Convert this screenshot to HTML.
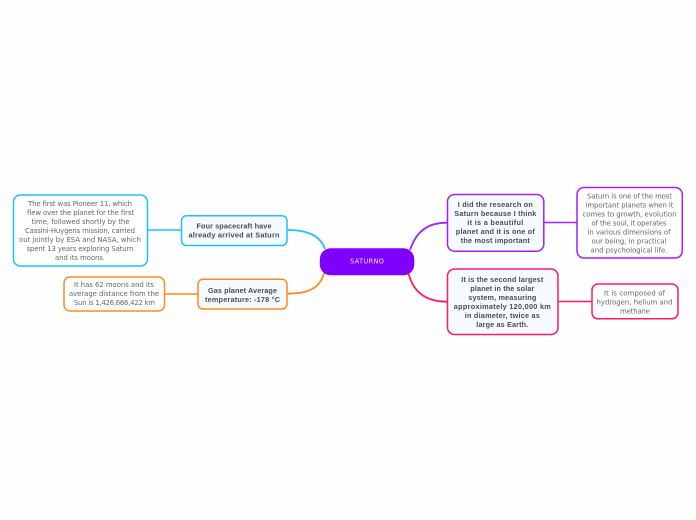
<!DOCTYPE html>
<html><head><meta charset="utf-8"><title>SATURNO</title>
<style>
html,body{margin:0;padding:0;background:#fff;width:696px;height:520px;overflow:hidden}
svg{display:block}
text{text-anchor:middle}
.n text{font-family:"DejaVu Sans",sans-serif;font-size:6.9px;fill:#666}
.b text{font-family:"Liberation Sans",sans-serif;font-size:7.3px;font-weight:bold;fill:#484c58}
</style></head><body>
<svg width="696" height="520" viewBox="0 0 696 520" xmlns="http://www.w3.org/2000/svg">
<rect width="696" height="520" fill="#fefefe"/>
<g fill="none" stroke-width="1.6">
<path d="M147.5 230H181" stroke="#1fc0ff"/>
<path d="M287 230C307 230 320 235 325 249" stroke="#1fc0ff" stroke-width="1.8"/>
<path d="M164.5 294H197.5" stroke="#ff8a1f"/>
<path d="M287 293.7C307 293.7 320 289 324 273" stroke="#ff8a1f" stroke-width="1.8"/>
<path d="M544 222.5H576.5" stroke="#a21fff"/>
<path d="M447 222.7C427 222.7 416 232 410 250" stroke="#a21fff" stroke-width="1.8"/>
<path d="M558 301.5H591.7" stroke="#ff1a6e"/>
<path d="M447 301.7C425 301.7 413 291 408.7 274" stroke="#ff1a6e" stroke-width="1.8"/>
</g>
<g stroke-width="1.5">
<rect x="13.5" y="195" width="134" height="71" rx="7" fill="#fff" stroke="#1fc0ff"/>
<rect x="181.5" y="215.8" width="105.5" height="29.7" rx="5" fill="#f5faff" stroke="#1fc0ff"/>
<rect x="64" y="277" width="100.5" height="34" rx="6" fill="#fff" stroke="#ff8a1f"/>
<rect x="198" y="279.3" width="89" height="29.7" rx="5" fill="#f5faff" stroke="#ff8a1f"/>
<rect x="447.5" y="194.5" width="96.3" height="56.7" rx="7" fill="#f5faff" stroke="#a21fff"/>
<rect x="447.5" y="269" width="110.5" height="65.5" rx="7" fill="#f5faff" stroke="#ff1a6e"/>
<rect x="577" y="187.5" width="105.3" height="70.5" rx="7" fill="#fff" stroke="#a21fff"/>
<rect x="592" y="284" width="86" height="34.8" rx="6" fill="#fff" stroke="#ff1a6e"/>
</g>
<rect x="319.8" y="248.3" width="94.5" height="27" rx="11" fill="#7f00ff"/>
<text x="367" y="263.6" font-family="DejaVu Sans, sans-serif" font-size="6.6" fill="#f0e2ff" textLength="34">SATURNO</text>

<g class="n">
<text x="80" y="206" textLength="104">The first was Pioneer 11, which</text>
<text x="80.5" y="215" textLength="107">flew over the planet for the first</text>
<text x="80.5" y="224" textLength="98">time, followed shortly by the</text>
<text x="80" y="233" textLength="110">Cassini-Huygens mission, carried</text>
<text x="80" y="242" textLength="122">out jointly by ESA and NASA, which</text>
<text x="80" y="251" textLength="107">spent 13 years exploring Saturn</text>
<text x="80" y="260" textLength="50">and its moons.</text>
<text x="114" y="287" textLength="80">It has 62 moons and its</text>
<text x="114" y="296" textLength="90">average distance from the</text>
<text x="114.5" y="305" textLength="81">Sun is 1,426,666,422 km</text>
<text x="629.5" y="198.5" textLength="85">Saturn is one of the most</text>
<text x="629.5" y="207.5" textLength="88">important planets when it</text>
<text x="629.5" y="216.5" textLength="94">comes to growth, evolution</text>
<text x="629" y="225.5" textLength="75">of the soul, it operates</text>
<text x="629" y="234.5" textLength="83">in various dimensions of</text>
<text x="629" y="243.5" textLength="75">our being, in practical</text>
<text x="629" y="252.5" textLength="77">and psychological life.</text>
<text x="634.5" y="295.5" textLength="61">It is composed of</text>
<text x="634.5" y="304.5" textLength="76">hydrogen, helium and</text>
<text x="635" y="313.5" textLength="30">methane</text>
</g>
<g class="b">
<text x="234" y="228.5" textLength="75">Four spacecraft have</text>
<text x="234" y="237.5" textLength="91">already arrived at Saturn</text>
<text x="242.5" y="292.8" textLength="69">Gas planet Average</text>
<text x="242.5" y="301.8" textLength="75">temperature: -178 °C</text>
<text x="495.3" y="207" textLength="75">I did the research on</text>
<text x="495.3" y="216" textLength="82">Saturn because I think</text>
<text x="495.3" y="225" textLength="56">it is a beautiful</text>
<text x="495.3" y="234" textLength="79">planet and it is one of</text>
<text x="495.3" y="243" textLength="69">the most important</text>
<text x="502.3" y="282" textLength="82">It is the second largest</text>
<text x="502.3" y="291" textLength="64">planet in the solar</text>
<text x="502.3" y="300" textLength="68">system, measuring</text>
<text x="502.3" y="309" textLength="97">approximately 120,000 km</text>
<text x="502.3" y="318" textLength="75">in diameter, twice as</text>
<text x="502.3" y="327" textLength="52">large as Earth.</text>
</g>
</svg>
</body></html>
